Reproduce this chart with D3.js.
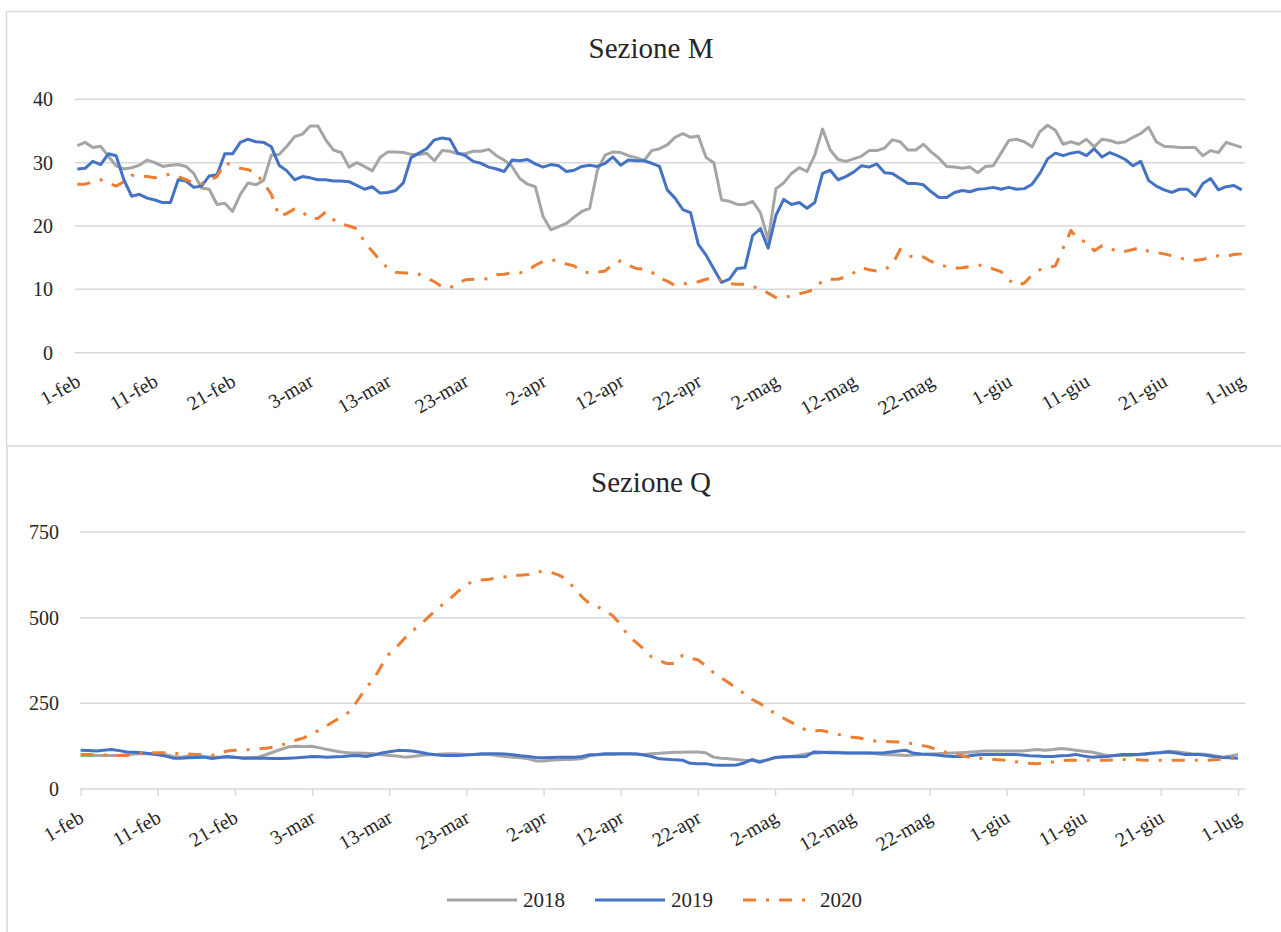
<!DOCTYPE html>
<html>
<head>
<meta charset="utf-8">
<script src="https://cdn.jsdelivr.net/npm/d3@7"></script>
<style>
  body { margin: 0; background: #fff; }
  svg text { font-family: "Liberation Serif", "DejaVu Serif", serif !important; fill: #262626; }
</style>
</head>
<body>
<div id="chart"></div>
<script>
// category labels, one every 10 days (1 feb -> 1 lug, 151 days)
var tickDays = [0, 10, 20, 30, 40, 50, 60, 70, 80, 90, 100, 110, 120, 130, 140, 150];
var tickLabels = ["1-feb", "11-feb", "21-feb", "3-mar", "13-mar", "23-mar", "2-apr", "12-apr",
  "22-apr", "2-mag", "12-mag", "22-mag", "1-giu", "11-giu", "21-giu", "1-lug"];
var years = ["2018", "2019", "2020"];

// Sezione M
var m2018 = [
  32.7, 33.2, 32.4, 32.6, 31.0, 29.5, 29.0, 29.2, 29.6, 30.4,
  30.0, 29.4, 29.6, 29.7, 29.4, 28.3, 26.0, 25.8, 23.4, 23.6,
  22.3, 25.0, 26.8, 26.5, 27.2, 31.2, 31.3, 32.6, 34.1, 34.5,
  35.8, 35.8, 33.6, 32.0, 31.6, 29.3, 30.0, 29.4, 28.7, 30.8,
  31.7, 31.7, 31.6, 31.3, 31.3, 31.5, 30.3, 31.9, 31.8, 31.4,
  31.4, 31.8, 31.8, 32.1, 31.1, 30.4, 29.4, 27.5, 26.6, 26.2,
  21.5, 19.4, 19.9, 20.4, 21.4, 22.3, 22.8, 28.8, 31.2, 31.7,
  31.6, 31.1, 30.8, 30.3, 31.9, 32.2, 32.8, 34.0, 34.6, 34.0,
  34.2, 30.8, 30.0, 24.1, 23.9, 23.4, 23.4, 23.9, 22.1, 17.8,
  25.9, 26.8, 28.3, 29.2, 28.6, 31.2, 35.3, 32.0, 30.5, 30.2,
  30.6, 31.0, 31.9, 31.9, 32.3, 33.6, 33.3, 32.0, 32.0, 32.9,
  31.7, 30.7, 29.4, 29.3, 29.1, 29.3, 28.4, 29.4, 29.5, 31.5,
  33.5, 33.7, 33.3, 32.5, 34.9, 35.9, 35.1, 32.9, 33.3, 32.9,
  33.7, 32.5, 33.7, 33.5, 33.1, 33.3, 34.0, 34.6, 35.6, 33.3,
  32.6, 32.5, 32.4, 32.4, 32.4, 31.1, 31.9, 31.6, 33.2, 32.8,
  32.4
];
var m2019 = [
  29.0, 29.1, 30.2, 29.7, 31.4, 31.1, 27.3, 24.7, 25.0, 24.4,
  24.1, 23.7, 23.7, 27.3, 27.1, 26.1, 26.3, 27.9, 28.1, 31.4,
  31.4, 33.2, 33.7, 33.3, 33.2, 32.5, 29.6, 28.7, 27.3, 27.8,
  27.6, 27.3, 27.3, 27.1, 27.1, 27.0, 26.4, 25.8, 26.2, 25.2,
  25.3, 25.6, 26.8, 30.8, 31.5, 32.2, 33.6, 33.9, 33.7, 31.5,
  31.1, 30.2, 29.9, 29.3, 29.0, 28.6, 30.4, 30.3, 30.5, 29.8,
  29.3, 29.7, 29.5, 28.6, 28.8, 29.4, 29.6, 29.4, 29.9, 30.9,
  29.6, 30.4, 30.3, 30.3, 29.9, 29.4, 25.7, 24.4, 22.6, 22.1,
  17.1, 15.4, 13.2, 11.1, 11.6, 13.3, 13.4, 18.5, 19.6, 16.5,
  21.7, 24.2, 23.4, 23.7, 22.8, 23.7, 28.3, 28.8, 27.3, 27.8,
  28.5, 29.5, 29.3, 29.8, 28.4, 28.3, 27.5, 26.7, 26.7, 26.5,
  25.4, 24.5, 24.5, 25.3, 25.6, 25.4, 25.8, 25.9, 26.1, 25.8,
  26.1, 25.8, 25.9, 26.6, 28.3, 30.6, 31.5, 31.1, 31.5, 31.7,
  31.1, 32.2, 30.9, 31.6, 31.1, 30.5, 29.5, 30.2, 27.2, 26.3,
  25.7, 25.3, 25.8, 25.8, 24.7, 26.7, 27.5, 25.7, 26.2, 26.4,
  25.7
];
var m2020 = [
  26.6, 26.6, 27.0, 27.3, 26.8, 26.3, 27.0, 28.0, 27.9, 27.8,
  27.6, 27.9, 28.2, 27.8, 27.3, 26.8, 26.7, 27.2, 27.8, 30.0,
  29.6, 29.1, 28.9, 28.4, 26.8, 25.0, 21.5, 22.0, 22.7, 22.2,
  21.2, 21.2, 22.2, 21.0, 20.3, 20.0, 19.6, 17.5, 16.0, 14.6,
  13.3, 12.7, 12.6, 12.6, 12.4, 11.8, 11.2, 10.4, 10.2, 11.0,
  11.5, 11.6, 11.6, 11.7, 12.3, 12.4, 12.6, 12.6, 13.0, 13.8,
  14.4, 14.7, 14.4, 14.0, 13.7, 12.8, 12.6, 12.7, 12.9, 14.0,
  14.5, 13.8, 13.3, 13.2, 12.7, 11.8, 11.3, 10.6, 10.8, 11.1,
  11.2, 11.6, 11.8, 11.4, 10.9, 10.8, 10.8, 10.4, 10.2, 9.4,
  8.7, 8.7, 9.0, 9.3, 9.6, 10.0, 11.4, 11.6, 11.6, 12.0,
  12.6, 13.4, 13.1, 12.9, 13.1, 13.9, 16.3, 15.4, 14.9, 15.1,
  14.4, 13.9, 13.6, 13.3, 13.4, 13.6, 13.8, 13.8, 13.2, 12.8,
  11.5, 10.6, 11.0, 12.3, 13.1, 13.4, 13.7, 16.5, 19.3, 17.8,
  17.5, 16.1, 16.9, 16.5, 15.9, 16.0, 16.3, 16.6, 16.0, 15.8,
  15.6, 15.3, 15.0, 14.6, 14.6, 14.7, 15.2, 15.3, 15.2, 15.5,
  15.6
];

// Sezione Q
var q2018 = [
  98, 98, 98, 98, 98, 98, 100, 102, 103, 103,
  103, 100, 95, 93, 96, 98, 95, 93, 93, 93,
  92, 91, 92, 93, 100, 108, 116, 123, 125, 124,
  125, 120, 115, 111, 107, 105, 105, 104, 103, 100,
  98, 96, 93, 95, 98, 100, 101, 102, 103, 102,
  101, 101, 101, 101, 98, 95, 93, 91, 88, 82,
  82, 84, 85, 86, 87, 89, 97, 100, 101, 101,
  102, 103, 102, 101, 103, 104, 106, 107, 107, 108,
  108, 106, 93, 90, 88, 86, 84, 83, 81, 85,
  91, 93, 95, 98, 102, 104, 106, 108, 107, 106,
  105, 105, 105, 103, 101, 100, 99, 98, 99, 101,
  102, 103, 104, 105, 106, 107, 109, 111, 111, 111,
  111, 111, 111, 113, 115, 113, 115, 118, 116, 113,
  110, 108, 103, 98, 98, 98, 98, 100, 101, 104,
  107, 110, 109, 106, 103, 102, 101, 97, 93, 96,
  101
];
var q2019 = [
  113, 112, 111, 113, 115, 112, 108, 107, 106, 103,
  100, 96, 90, 90, 91, 92, 93, 89, 92, 95,
  93, 90, 90, 90, 90, 89, 89, 90, 91, 93,
  95, 94, 93, 94, 95, 97, 98, 95, 99, 105,
  109, 112, 112, 111, 107, 103, 100, 98, 98, 98,
  99, 101, 103, 103, 103, 102, 100, 97, 95, 92,
  91, 92, 93, 93, 93, 95, 100, 101, 103, 103,
  103, 103, 102, 99, 95, 88, 87, 85, 84, 75,
  74, 74, 70, 69, 69, 70, 76, 86, 78, 85,
  92, 94, 95, 94, 95, 108, 107, 106, 106, 105,
  105, 105, 105, 105, 105, 108, 111, 113, 104, 102,
  101, 99, 96, 95, 95, 96, 99, 101, 101, 101,
  101, 101, 99, 97, 96, 95, 95, 97, 98, 101,
  96, 93, 94, 95, 98, 101, 101, 101, 103, 105,
  106, 108, 105, 101, 101, 101, 98, 94, 92, 91,
  90
];
var q2020 = [
  101, 101, 100, 99, 99, 98, 98, 101, 105, 106,
  106, 106, 104, 103, 102, 101, 100, 98, 104, 111,
  113, 114, 115, 117, 119, 122, 128, 136, 143, 150,
  162, 172, 186, 200, 212, 228, 262, 295, 322, 360,
  395, 415, 440, 462, 478, 500, 521, 540, 558, 578,
  596, 608, 610, 612, 616, 619, 624, 624, 626, 635,
  634, 632, 624, 612, 585, 560, 540, 532, 520, 505,
  480, 445, 428, 408, 385, 375, 366, 366, 390, 382,
  377, 360, 340, 325, 310, 295, 278, 262, 250, 235,
  220, 208, 196, 184, 172, 170, 171, 166, 160, 156,
  151, 149, 144, 140, 139, 138, 137, 134, 132, 127,
  123, 114, 108, 105, 99, 93, 91, 89, 87, 85,
  84, 80, 77, 75, 74, 76, 79, 82, 84, 84,
  84, 84, 84, 84, 85, 86, 86, 85, 84, 84,
  84, 84, 84, 84, 84, 84, 84, 85, 87, 89,
  89
];

var colors = { "2018": "#a5a5a5", "2019": "#4472c4", "2020": "#ed7d31" };
var dashes = { "2018": null, "2019": null, "2020": "13,10,3,10" };
var gridColor = "#d9d9d9";
var serif = "'Liberation Serif', 'DejaVu Serif', serif";

var svg = d3.select("#chart")
  .append("svg")
  .attr("width", 1281)
  .attr("height", 932)
  .attr("font-family", serif);

// chart frames
svg.append("rect")
  .attr("x", 6.5).attr("y", 11.5)
  .attr("width", 1300).attr("height", 434.5)
  .attr("fill", "none")
  .attr("stroke", gridColor)
  .attr("stroke-width", 1.5);
svg.append("line")
  .attr("x1", 7).attr("x2", 7)
  .attr("y1", 446).attr("y2", 940)
  .attr("stroke", gridColor)
  .attr("stroke-width", 1.5);

function drawPanel(p) {
  var x = d3.scaleLinear().domain([0, 150]).range(p.xRange);
  var y = d3.scaleLinear().domain(p.yDomain).range(p.yRange);
  var g = svg.append("g");

  // title
  g.append("text")
    .attr("x", 651)
    .attr("y", p.titleY)
    .attr("text-anchor", "middle")
    .attr("font-family", serif)
    .attr("font-size", 29)
    .text(p.title);

  // gridlines
  g.selectAll(".grid")
    .data(p.yTicks)
    .enter()
    .append("line")
    .attr("x1", p.gridX[0])
    .attr("x2", p.gridX[1])
    .attr("y1", d => y(d))
    .attr("y2", d => y(d))
    .attr("stroke", gridColor)
    .attr("stroke-width", 1.5);

  // y axis labels
  var leftAxis = d3.axisLeft(y).tickValues(p.yTicks).tickSize(0).tickPadding(0);
  var ya = g.append("g")
    .attr("transform", `translate(${p.yLabelX}, 0)`)
    .call(leftAxis)
    .attr("font-family", serif);
  ya.select(".domain").remove();
  ya.selectAll("text")
    .attr("font-size", 20)
    .attr("fill", "#262626");

  // x axis
  var bottomAxis = d3.axisBottom(x)
    .tickValues(tickDays)
    .tickFormat((d, i) => tickLabels[i])
    .tickSize(p.tickMarks ? 7 : 0);
  var xa = g.append("g")
    .attr("transform", `translate(0, ${y(0)})`)
    .call(bottomAxis)
    .attr("font-family", serif);
  xa.select(".domain").remove();
  xa.selectAll("line")
    .attr("stroke", gridColor)
    .attr("stroke-width", 1.5);
  xa.selectAll("text")
    .attr("font-size", 20)
    .attr("fill", "#262626")
    .attr("text-anchor", "end")
    .attr("y", 0)
    .attr("dy", "0.71em")
    .attr("transform", "translate(-3, 20) rotate(-30)");

  // series
  var line = d3.line()
    .x((d, i) => x(i))
    .y(d => y(d));
  p.series.forEach(function(s, k) {
    var yr = years[k];
    g.append("path")
      .datum(s)
      .attr("d", line)
      .attr("fill", "none")
      .attr("stroke", colors[yr])
      .attr("stroke-width", 3)
      .attr("stroke-linejoin", "round")
      .attr("stroke-dasharray", dashes[yr]);
  });
}

drawPanel({
  title: "Sezione M",
  titleY: 58,
  series: [m2018, m2019, m2020],
  xRange: [77.3, 1241.7],
  gridX: [75, 1245],
  yDomain: [0, 40],
  yRange: [352.7, 99.3],
  yTicks: [0, 10, 20, 30, 40],
  yLabelX: 53,
  tickMarks: false
});

drawPanel({
  title: "Sezione Q",
  titleY: 492,
  series: [q2018, q2019, q2020],
  xRange: [80.6, 1238],
  gridX: [80, 1245],
  yDomain: [0, 750],
  yRange: [789, 532],
  yTicks: [0, 250, 500, 750],
  yLabelX: 59,
  tickMarks: true
});

// legend
var legendItems = [
  { year: "2018", x: 447 },
  { year: "2019", x: 595 },
  { year: "2020", x: 743 }
];
var legend = svg.append("g");
legendItems.forEach(function(it) {
  legend.append("line")
    .attr("x1", it.x).attr("x2", it.x + (it.year === "2020" ? 64 : 70))
    .attr("y1", 900).attr("y2", 900)
    .attr("stroke", colors[it.year])
    .attr("stroke-width", 3)
    .attr("stroke-dasharray", dashes[it.year]);
  legend.append("text")
    .attr("x", it.year === "2020" ? 820 : it.x + 76)
    .attr("y", 907)
    .attr("font-family", serif)
    .attr("font-size", 21)
    .text(it.year);
});
</script>
</body>
</html>
